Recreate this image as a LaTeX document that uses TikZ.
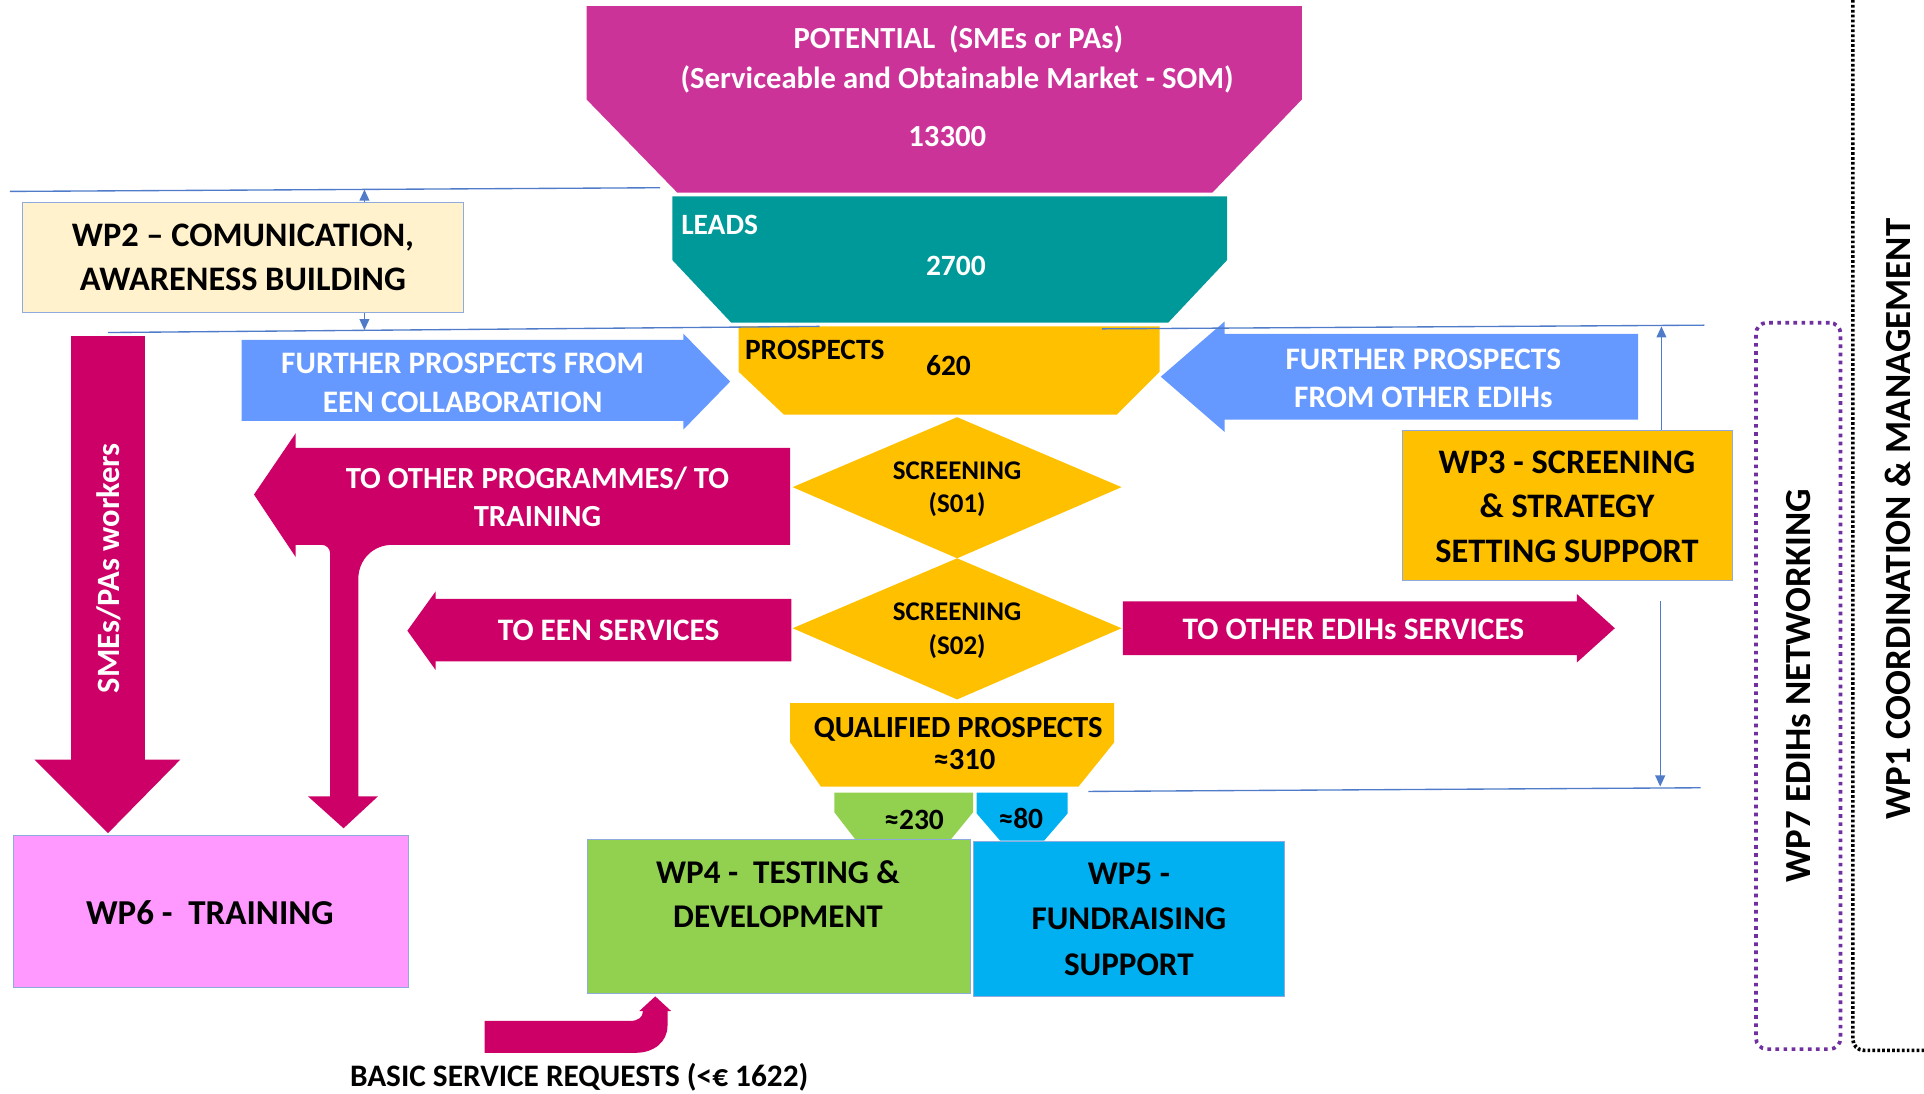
\documentclass[tikz,border=0pt]{standalone}
\usepackage{fontspec}
\setmainfont{Carlito}
\usetikzlibrary{arrows.meta}
\definecolor{potc}{HTML}{CC3399}
\definecolor{leadc}{HTML}{009999}
\definecolor{goldc}{HTML}{FFC000}
\definecolor{magc}{HTML}{CC0066}
\definecolor{bluea}{HTML}{6699FF}
\definecolor{greenc}{HTML}{92D050}
\definecolor{skyc}{HTML}{00B0F0}
\definecolor{pinkc}{HTML}{FF99FF}
\definecolor{creamc}{HTML}{FFF2CC}
\definecolor{linec}{HTML}{4F7BC8}
\definecolor{edgec}{HTML}{8FAADC}
\definecolor{purpc}{HTML}{7030A0}
\newcommand{\fsz}[2]{\fontsize{#1}{#2}\selectfont}
\begin{document}
\begin{tikzpicture}[x=1pt,y=-1pt,
  lbl/.style={font=\bfseries, inner sep=0pt, align=center},
  wlbl/.style={lbl, text=white},
  wpbox/.style={draw=edgec, line width=0.8pt, inner sep=0pt},
  sepline/.style={draw=linec, line width=1.1pt},
  sepArrow/.style={draw=linec, line width=1.1pt, -{Triangle[width=8pt,length=9pt]}, fill=linec},
  wpsev/.style={draw=purpc, line width=3pt, dash pattern=on 3pt off 3.6pt, rounded corners=9pt, inner sep=0pt},
  wpone/.style={draw=black, line width=3pt, dash pattern=on 2.2pt off 1.8pt}]
\useasboundingbox (0,0) rectangle (1568,891);

% ---------- funnel ----------
\fill[potc] (478,5) -- (1061,5) -- (1061,81) -- (988,157) -- (552,157) -- (478,81) -- cycle;
\node[wlbl, font=\bfseries\fsz{25}{30}] (pot1) at (781,32) {POTENTIAL~~(SMEs or PAs)};
\node[wlbl, font=\bfseries\fsz{25}{30}] (pot2) at (780,65) {(Serviceable and Obtainable Market - SOM)};
\node[wlbl, font=\bfseries\fsz{25}{30}] (pot3) at (772,111) {13300};

\fill[leadc] (548,160) -- (1000,160) -- (1000,212) -- (952,263) -- (596,263) -- (548,212) -- cycle;
\node[wlbl, anchor=west, font=\bfseries\fsz{24}{29}] (leads) at (555,183) {LEADS};
\node[wlbl, font=\bfseries\fsz{24}{29}] (leadn) at (779,217) {2700};

\fill[goldc] (602,266) -- (945,266) -- (945,303) -- (910,338) -- (639,338) -- (602,303) -- cycle;
\node[lbl, anchor=west, font=\bfseries\fsz{24}{29}] (prosp) at (607,285) {PROSPECTS};
\node[lbl, font=\bfseries\fsz{24}{29}] (prospn) at (773,298) {620};

\fill[goldc] (780,340) -- (914,397) -- (780,455) -- (646,397) -- cycle;
\node[lbl, font=\bfseries\fsz{22}{27}] (scr1) at (780,399) {SCREENING\\(S01)};
\fill[goldc] (780,455) -- (914,512) -- (780,570) -- (646,512) -- cycle;
\node[lbl, font=\bfseries\fsz{22}{27}] (scr2) at (780,514) {SCREENING\\(S02)};

\fill[goldc] (644,573) -- (908,573) -- (908,605) -- (879,641) -- (669,641) -- (644,605) -- cycle;
\node[lbl, font=\bfseries\fsz{25}{26}] (qual) at (781,606) {QUALIFIED PROSPECTS\\\hspace*{10pt}≈310};

\fill[greenc] (680,646) -- (793,646) -- (793,662) -- (775,684) -- (697,684) -- (680,662) -- cycle;
\node[lbl, font=\bfseries\fsz{24}{28}] (q230) at (745,668) {≈230};
\fill[skyc] (796,646) -- (870,646) -- (870,663) -- (851,685) -- (815,685) -- (796,663) -- cycle;
\node[lbl, font=\bfseries\fsz{24}{28}] (q80) at (832,667) {≈80};

% ---------- work package boxes ----------
\node[wpbox, fill=greenc, minimum width=312pt, minimum height=126pt] (wp4) at (635,747) {};
\node[lbl, font=\bfseries\fsz{27}{36}] (wp4t) at (634,729) {WP4 -~~TESTING \&\\DEVELOPMENT};
\node[wpbox, fill=skyc, minimum width=254pt, minimum height=126pt] (wp5) at (920,749) {};
\node[lbl, font=\bfseries\fsz{27}{37}] (wp5t) at (920,749) {WP5 -\\FUNDRAISING\\SUPPORT};
\node[wpbox, fill=pinkc, minimum width=322pt, minimum height=124pt] (wp6) at (172,743) {};
\node[lbl, font=\bfseries\fsz{28.5}{34}] (wp6t) at (171,744) {WP6 -~~TRAINING};
\node[wpbox, fill=creamc, minimum width=360pt, minimum height=90pt] (wp2) at (198,210) {};
\node[lbl, font=\bfseries\fsz{28}{36}] (wp2t) at (198,210) {WP2 – COMUNICATION,\\AWARENESS BUILDING};
\node[wpbox, fill=goldc, minimum width=269pt, minimum height=122pt] (wp3) at (1277.5,412) {};
\node[lbl, font=\bfseries\fsz{28}{36.5}] (wp3t) at (1277,413) {WP3 - SCREENING\\\& STRATEGY\\SETTING SUPPORT};

% ---------- incoming blue arrows ----------
\fill[bluea] (197,277) -- (557,277) -- (557,272) -- (595,311) -- (557,350) -- (557,343) -- (197,343) -- cycle;
\node[wlbl, font=\bfseries\fsz{25.5}{31}] (eenin) at (377,312) {FURTHER PROSPECTS FROM\\EEN COLLABORATION};
\fill[bluea] (1335,272) -- (998,272) -- (998,262) -- (946,307) -- (998,352) -- (998,342) -- (1335,342) -- cycle;
\node[wlbl, font=\bfseries\fsz{25.5}{31}] (edihin) at (1160,308) {FURTHER PROSPECTS\\FROM OTHER EDIHs};

% ---------- outgoing magenta arrows ----------
\fill[magc] (644,365) -- (241,365) -- (241,353) -- (207,403) -- (241,454) -- (241,444) -- (262,444)
  .. controls (266,444) and (269,447) .. (269,451) -- (269,649) -- (251,649) -- (280,675) -- (308,649) -- (292,649)
  -- (292,472) .. controls (292,456) and (304,444) .. (320,444) -- (644,444) -- cycle;
\node[wlbl, font=\bfseries\fsz{25}{31}] (toprog) at (438,405) {TO OTHER PROGRAMMES/ TO\\TRAINING};
\fill[magc] (645,488) -- (355,488) -- (355,482) -- (332,514) -- (355,546) -- (355,539) -- (645,539) -- cycle;
\node[wlbl, font=\bfseries\fsz{25.5}{29}] (toeen) at (496,514) {TO EEN SERVICES};
\fill[magc] (915,490) -- (1285,490) -- (1285,484) -- (1316,512) -- (1285,540) -- (1285,534) -- (915,534) -- cycle;
\node[wlbl, font=\bfseries\fsz{25.5}{29}] (toedih) at (1103,513) {TO OTHER EDIHs SERVICES};

\fill[magc] (58,274) -- (118,274) -- (118,619) -- (147,619) -- (88,679) -- (28,619) -- (58,619) -- cycle;
\node[wlbl, rotate=90, font=\bfseries\fsz{26.5}{30}] (workers) at (89,463) {SMEs/PAs workers};

\fill[magc] (395,832) -- (514,832) .. controls (520,832) and (524,829) .. (524,824) -- (521,824) -- (534,812)
  -- (547,824) -- (544,824) -- (544,836) .. controls (544,849) and (533,858) .. (518,858) -- (395,858) -- cycle;
\node[lbl, font=\bfseries\fsz{25.5}{29}] (basic) at (472,878) {BASIC SERVICE REQUESTS (<€ 1622)};

% ---------- stage separators ----------
\coordinate (sa1) at (8,156);   \coordinate (sa2) at (538,153);
\coordinate (sb1) at (88,271);  \coordinate (sb2) at (668,266);
\coordinate (sc1) at (898,268); \coordinate (sc2) at (1389,265);
\coordinate (sd1) at (887,645); \coordinate (sd2) at (1386,642);
\draw[sepline] (sa1) -- (sa2);
\draw[sepline] (sb1) -- (sb2);
\draw[sepline] (sc1) -- (sc2);
\draw[sepline] (sd1) -- (sd2);
\coordinate (wp2up) at (297,154.5);
\coordinate (wp2dn) at (297,269);
\coordinate (wp3up) at (1354,266);
\coordinate (wp3ds) at (1353,490);
\coordinate (wp3dn) at (1353,641);
\draw[sepArrow] (wp2.north -| wp2up) -- (wp2up);
\draw[sepArrow] (wp2.south -| wp2dn) -- (wp2dn);
\draw[sepArrow] (wp3.north -| wp3up) -- (wp3up);
\draw[sepArrow] (wp3ds) -- (wp3dn);

% ---------- cross-cutting work packages ----------
\node[wpsev, minimum width=69pt, minimum height=592pt] (wp7) at (1465.5,559) {};
\node[lbl, rotate=90, font=\bfseries\fsz{30}{36}] (wp7t) at (1466,559) {WP7 EDIHs NETWORKING};
\coordinate (wp1a) at (1510,0);
\coordinate (wp1b) at (1568,856);
\draw[wpone, rounded corners=9pt] (wp1a) -- (wp1a |- wp1b) -- (wp1b);
\node[lbl, rotate=90, font=\bfseries\fsz{30}{36}] (wp1t) at (1547,423) {WP1 COORDINATION \& MANAGEMENT};
\end{tikzpicture}
\end{document}
